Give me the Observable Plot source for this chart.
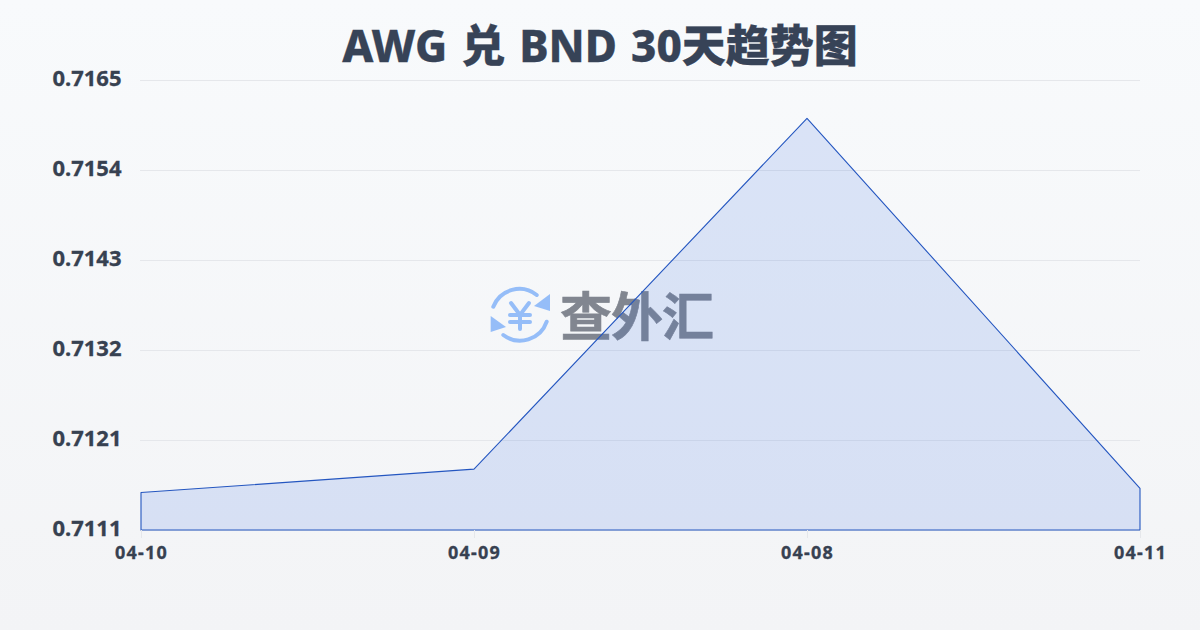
<!DOCTYPE html>
<html><head><meta charset="utf-8">
<script src="https://cdn.jsdelivr.net/npm/d3@7"></script>
<script src="https://cdn.jsdelivr.net/npm/@observablehq/plot@0.6"></script>
<style>
html,body{margin:0;padding:0}
body{width:1200px;height:630px;overflow:hidden;position:relative;background:linear-gradient(180deg,#f8fafc 0%,#f3f4f6 100%);font-family:"Noto Sans","Noto Sans CJK SC",sans-serif}
#title{height:70px;padding-top:16px;box-sizing:border-box;line-height:58px;text-align:center;font-size:44px;font-weight:800;color:#374357;white-space:pre;word-spacing:2.5px;-webkit-text-stroke:.3px #374357}
#wm{position:absolute;left:488px;top:284px;width:230px;height:62px;display:flex;align-items:center;opacity:.62}
#wm span{font:700 52px "Noto Sans CJK SC",sans-serif;color:#3b4250;margin-left:10px;letter-spacing:-1px;line-height:62px;position:relative;top:-1px;-webkit-text-stroke:.6px #3b4250}
#chart{position:absolute;left:0;top:70px}
g[aria-label="x-axis tick label"] text{letter-spacing:1.2px;stroke:#374151;stroke-width:.3px}
g[aria-label="y-axis tick label"] text{stroke:#374151;stroke-width:.3px}
</style></head>
<body>
<div id="title">AWG 兑 BND 30天趋势图</div>
<div id="wm"><svg width="62" height="62" viewBox="0 0 62 62" fill="none" stroke="#5b9bf8" stroke-width="4" stroke-linecap="round">
<path d="M5.3 22.7A28 28 0 0 1 48.7 11"/><path d="M58.7 37.7A28 28 0 0 1 15.3 51"/>
<path d="M62 10V27L46 22Z" fill="#5b9bf8" stroke="none"/><path d="M2.7 32V48L18 43Z" fill="#5b9bf8" stroke="none"/>
<path d="M23 19L32 31L41 19M22 31H42M22 38H42M32 31V45"/></svg><span>查外汇</span></div>
<div id="chart"></div>
<script>
const dates = ["04-10","04-09","04-08","04-11"];
const rates = [0.71155,0.71183,0.71604,0.7116];
const yTicks = [0.7111,0.71218,0.71326,0.71434,0.71542,0.7165];
const yLabels = ["0.7111","0.7121","0.7132","0.7143","0.7154","0.7165"];
const yMin = 0.7111, yMax = 0.7165;
const rows = dates.map((d,i)=>({date:d,rate:rates[i]}));
const plot = Plot.plot({
  width:1200,height:560,
  marginLeft:140,marginRight:60,marginTop:10,marginBottom:100,
  style:{background:"transparent",fontFamily:'"Noto Sans","Noto Sans CJK SC",sans-serif',overflow:"visible"},
  x:{type:"point",domain:dates,padding:0,label:null},
  y:{domain:[yMin,yMax],label:null},
  marks:[
    Plot.ruleY(yTicks,{stroke:"#e5e7eb",strokeWidth:1}),
    Plot.areaY(rows,{x:"date",y1:()=>yMin,y2:"rate",curve:"linear",fill:"#2862e4",fillOpacity:.14,stroke:"#2456c0",strokeWidth:1.1}),
    Plot.axisY({ticks:yTicks,tickFormat:(d,i)=>yLabels[i],tickSize:0,tickPadding:0,dx:-19,dy:-2,fontSize:22,fontWeight:700,fill:"#374151",label:null,anchor:"left"}),
    Plot.axisX({tickSize:8,stroke:"#e5e7eb",tickPadding:8,fontSize:18,fontWeight:700,fill:"#374151",label:null,anchor:"bottom"})
  ]
});
document.getElementById("chart").appendChild(plot);
</script>
</body></html>
